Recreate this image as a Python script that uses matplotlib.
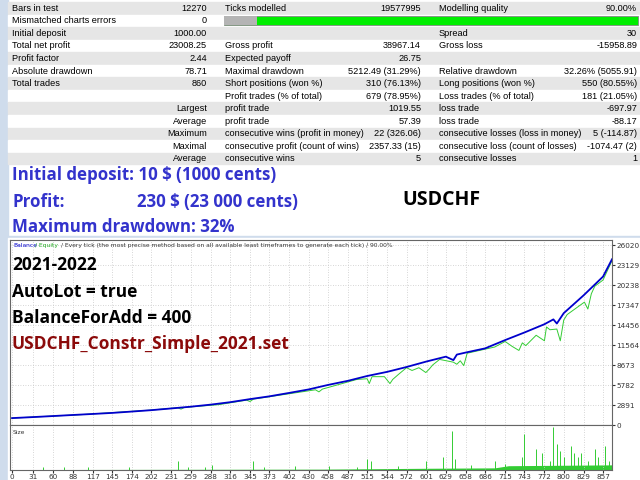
import matplotlib
matplotlib.use("Agg")
import matplotlib.pyplot as plt
from matplotlib.patches import Rectangle

rows = [
    ("Bars in test", "12270", "Ticks modelled", "19577995", "Modelling quality", "90.00%"),
    ("Mismatched charts errors", "0", None, None, None, None),
    ("Initial deposit", "1000.00", "", "", "Spread", "30"),
    ("Total net profit", "23008.25", "Gross profit", "38967.14", "Gross loss", "-15958.89"),
    ("Profit factor", "2.44", "Expected payoff", "26.75", "", ""),
    ("Absolute drawdown", "78.71", "Maximal drawdown", "5212.49 (31.29%)", "Relative drawdown", "32.26% (5055.91)"),
    ("Total trades", "860", "Short positions (won %)", "310 (76.13%)", "Long positions (won %)", "550 (80.55%)"),
    ("", "", "Profit trades (% of total)", "679 (78.95%)", "Loss trades (% of total)", "181 (21.05%)"),
    ("Largest", "", "profit trade", "1019.55", "loss trade", "-697.97"),
    ("Average", "", "profit trade", "57.39", "loss trade", "-88.17"),
    ("Maximum", "", "consecutive wins (profit in money)", "22 (326.06)", "consecutive losses (loss in money)", "5 (-114.87)"),
    ("Maximal", "", "consecutive profit (count of wins)", "2357.33 (15)", "consecutive loss (count of losses)", "-1074.47 (2)"),
    ("Average", "", "consecutive wins", "5", "consecutive losses", "1"),
]

bal_x = [0, 31, 60, 88, 117, 145, 174, 202, 231, 259, 288, 316, 345, 373, 402, 430, 458, 487, 515,
         544, 572, 601, 629, 640, 645, 658, 686, 715, 743, 772, 785, 790, 800, 829, 857, 870]
bal_y = [1000, 1150, 1300, 1450, 1600, 1750, 1950, 2150, 2400, 2650, 2950, 3300, 3750, 4150, 4650,
         5150, 5800, 6400, 7100, 7700, 8400, 9200, 9900, 9400, 10200, 10500, 11100, 12300, 13400,
         14600, 15300, 14700, 16200, 18800, 21500, 24008]

eq_x = [0, 100, 200, 240, 245, 250, 300, 340, 345, 350, 400, 440, 445, 450, 500, 515, 518, 522, 540,
        548, 552, 560, 572, 580, 590, 600, 605, 610, 620, 640, 645, 650, 655, 660, 700, 715, 725, 735,
        740, 745, 760, 772, 775, 780, 790, 795, 800, 805, 830, 835, 840, 845, 857, 870]
eq_y = [1000, 1500, 2150, 2500, 2300, 2550, 2950, 3600, 3400, 3750, 4500, 5100, 4800, 5200, 6600,
        6700, 6000, 7000, 7000, 6000, 6600, 7300, 8300, 7900, 8300, 7600, 8100, 8700, 9500, 9100,
        8800, 9300, 8600, 10400, 11300, 12100, 11400, 10800, 11900, 11500, 13000, 12200, 14200,
        13800, 13900, 12200, 15200, 16000, 17800, 16800, 19000, 20100, 21000, 23800]

size_x = [45, 75, 110, 170, 240, 255, 280, 290, 350, 365, 410, 460, 500, 515, 520, 560, 600, 625,
          638, 642, 665, 700, 715, 740, 742, 760, 768, 780, 785, 790, 795, 800, 810, 815, 820, 825,
          835, 845, 850, 860, 866]
size_y = [0.06, 0.08, 0.06, 0.06, 0.2, 0.08, 0.06, 0.12, 0.22, 0.08, 0.1, 0.1, 0.08, 0.25, 0.2, 0.1,
          0.2, 0.3, 0.9, 0.25, 0.12, 0.2, 0.15, 0.3, 0.85, 0.5, 0.4, 0.2, 1.0, 0.6, 0.45, 0.3, 0.55,
          0.4, 0.3, 0.4, 0.2, 0.5, 0.3, 0.55, 0.2]
base_x = [0, 450, 600, 700, 720, 870]
base_y = [0.01, 0.02, 0.04, 0.05, 0.1, 0.12]

yticks = [0, 2891, 5782, 8673, 11564, 14456, 17347, 20238, 23129, 26020]
xticks = [0, 31, 60, 88, 117, 145, 174, 202, 231, 259, 288, 316, 345, 373, 402, 430, 458, 487, 515,
          544, 572, 601, 629, 658, 686, 715, 743, 772, 800, 829, 857]

W, H = 640, 480
fig = plt.figure(figsize=(6.4, 4.8), dpi=100)
fig.patch.set_facecolor("white")

def rect(x0, y0, x1, y1):
    return [x0 / W, 1 - y1 / H, (x1 - x0) / W, (y1 - y0) / H]

bg = fig.add_axes([0, 0, 1, 1])
bg.set_xlim(0, W); bg.set_ylim(H, 0); bg.axis("off")
bg.add_patch(Rectangle((0, 0), 8, H, color="#cfdcec"))
bg.add_patch(Rectangle((0, 236), W, 244, color="#cfdcec"))
bg.add_patch(Rectangle((8, 238), 632, 242, color="white"))

rh = 12.55
fs = 6.6
fam = "Liberation Sans"
for i, r in enumerate(rows):
    y0 = 2 + i * rh
    bg.add_patch(Rectangle((8, y0), 632, rh - 0.8, color="#e6e6e6" if i % 2 == 0 else "white"))
    yc = y0 + rh / 2
    l1, v1, l2, v2, l3, v3 = r
    if i >= 8:
        bg.text(207, yc, l1, ha="right", va="center", fontsize=fs, family=fam)
    else:
        bg.text(12, yc, l1, ha="left", va="center", fontsize=fs, family=fam)
    bg.text(207, yc, v1, ha="right", va="center", fontsize=fs, family=fam)
    if l2 is None:
        bg.add_patch(Rectangle((224, y0 + 1.5), 414, rh - 3.5, facecolor="#00ee00", edgecolor="#888888", lw=0.6))
        bg.add_patch(Rectangle((224, y0 + 1.5), 33, rh - 3.5, facecolor="#b4b4b4", edgecolor="none"))
        continue
    bg.text(225, yc, l2, ha="left", va="center", fontsize=fs, family=fam)
    bg.text(421, yc, v2, ha="right", va="center", fontsize=fs, family=fam)
    bg.text(439, yc, l3, ha="left", va="center", fontsize=fs, family=fam)
    bg.text(637, yc, v3, ha="right", va="center", fontsize=fs, family=fam)

bf = "Open Sans"
blue = "#3333cc"
bg.text(12, 175, "Initial deposit: 10 $ (1000 cents)", color=blue, fontsize=12.2, weight="bold", family=bf, va="center")
bg.text(12, 202, "Profit:", color=blue, fontsize=12.2, weight="bold", family=bf, va="center")
bg.text(298, 202, "230 $ (23 000 cents)", color=blue, fontsize=12.2, weight="bold", family=bf, va="center", ha="right")
bg.text(402, 200, "USDCHF", color="black", fontsize=14, weight="bold", family=bf, va="center")
bg.text(12, 227, "Maximum drawdown: 32%", color=blue, fontsize=12.2, weight="bold", family=bf, va="center")

ax = fig.add_axes(rect(10, 240, 612, 425))
ax2 = fig.add_axes(rect(10, 425, 612, 470))
for a in (ax, ax2):
    a.set_xlim(-3, 870)
    for s in a.spines.values():
        s.set_color("#666666"); s.set_linewidth(0.8)
    a.grid(True, color="#c8c8c8", ls=(0, (1, 2)), lw=0.6)
    a.set_xticks(xticks)
    a.tick_params(length=2, labelsize=5.2, colors="#333333", pad=1)
ax.set_ylim(0, 26800)
ax.set_yticks(yticks)
ax.yaxis.tick_right()
ax.tick_params(axis="x", labelbottom=False)
ax.plot(eq_x, eq_y, color="#33cc33", lw=0.7)
ax.plot(bal_x, bal_y, color="#0000cc", lw=1.3)
ax.text(0.005, 0.985, "Balance", transform=ax.transAxes, fontsize=4.3, color="#0000cc", va="top")
ax.text(0.042, 0.985, "/ Equity", transform=ax.transAxes, fontsize=4.3, color="#22aa22", va="top")
ax.text(0.085, 0.985, "/ Every tick (the most precise method based on all available least timeframes to generate each tick) / 90.00%",
        transform=ax.transAxes, fontsize=4.3, color="#333333", va="top")
ax.text(0.003, 0.84, "2021-2022", transform=ax.transAxes, fontsize=12.5, weight="bold", family=bf)
ax.text(0.003, 0.69, "AutoLot = true", transform=ax.transAxes, fontsize=12.5, weight="bold", family=bf)
ax.text(0.003, 0.55, "BalanceForAdd = 400", transform=ax.transAxes, fontsize=12.5, weight="bold", family=bf)
ax.text(0.003, 0.41, "USDCHF_Constr_Simple_2021.set", transform=ax.transAxes, fontsize=12.5, weight="bold",
        family=bf, color="#8b0a0a")

ax2.set_ylim(0, 1.05)
ax2.set_yticks([])
ax2.fill_between(base_x, 0, base_y, color="#33cc33", lw=0)
ax2.vlines(size_x, 0, size_y, color="#33cc33", lw=0.7)
ax2.text(0.005, 0.9, "Size", transform=ax2.transAxes, fontsize=4.3, color="#333333", va="top")

fig.savefig("out.png", dpi=100)
